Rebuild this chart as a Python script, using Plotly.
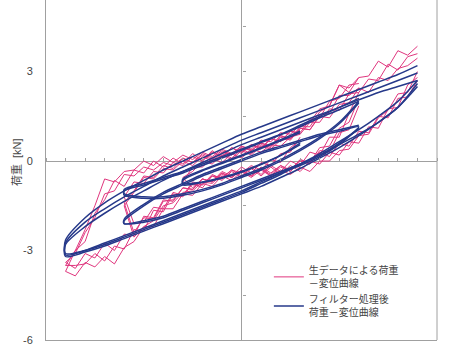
import plotly.graph_objects as go

# ---------------- data (displacement paths and measured loads) ----------------
pink_x9 = [9, 8.5, 8, 7.5, 7, 6.5, 6, 5.5, 5, 4.5, 4, 3.5, 3, 2.5, 2, 1.5, 1, 0.5, 0,
           -0.5, -1, -1.5, -2, -2.5, -3, -3.5, -4, -4.5, -5, -5.5, -6, -6.5, -7, -7.5, -8, -8.5, -9,
           -8.5, -8, -7.5, -7, -6.5, -6, -5.5, -5, -4.5, -4, -3.5, -3, -2.5, -2, -1.5, -1, -0.5,
           0, 0.5, 1, 1.5, 2, 2.5, 3, 3.5, 4, 4.5, 5, 5.5, 6, 6.5, 7, 7.5, 8, 8.5, 9]
pink_y9a = [3.85, 3.55, 3.7, 3.15, 3.35, 2.85, 2.8, 2.3, 2.55, 1.85, 1.75, 1.3, 1.2, 0.9, 0.95, 0.65, 0.7, 0.4, 0.5,
            0.25, 0.4, 0.15, 0.3, 0.05, 0.2, -0.05, 0.15, -0.15, 0.0, -0.3, -0.35, -0.7, -0.6, -1.5, -2.3, -3.0, -3.7,
            -3.85, -3.4, -3.55, -3.2, -3.45, -2.9, -2.7, -2.2, -2.0, -1.5, -1.4, -1.05, -1.0, -0.7, -0.75, -0.45, -0.55,
            -0.3, -0.5, -0.25, -0.5, -0.3, -0.45, -0.2, -0.35, 0.0, 0.0, 0.35, 0.4, 0.85, 0.9, 1.45, 1.7, 2.25, 2.3, 3.0]
pink_y9b = [3.6, 3.5, 3.05, 3.25, 2.7, 2.75, 2.3, 2.25, 1.7, 1.75, 1.3, 1.3, 0.9, 1.0, 0.65, 0.75, 0.4, 0.55, 0.25,
            0.45, 0.1, 0.35, 0.0, 0.25, -0.1, 0.1, -0.2, 0.0, -0.4, -0.3, -0.85, -0.65, -1.3, -1.75, -2.7, -3.0, -3.5,
            -3.5, -3.45, -3.1, -3.35, -2.85, -2.95, -2.3, -2.35, -1.65, -1.7, -1.1, -1.2, -0.75, -0.9, -0.5, -0.65, -0.35,
            -0.55, -0.25, -0.5, -0.2, -0.45, -0.15, -0.35, 0.0, -0.1, 0.3, 0.2, 0.65, 0.6, 1.15, 1.1, 1.75, 1.8, 2.55, 2.8]
pink_y9c = [3.45, 3.2, 3.1, 2.7, 2.8, 2.3, 2.45, 1.95, 1.9, 1.45, 1.5, 1.05, 1.1, 0.75, 0.85, 0.5, 0.6, 0.35, 0.45,
            0.2, 0.3, 0.05, 0.2, -0.05, 0.1, -0.15, -0.05, -0.3, -0.2, -0.5, -0.45, -1.0, -1.1, -1.9, -2.4, -3.1, -3.4,
            -3.6, -3.1, -3.25, -2.75, -3.0, -2.45, -2.5, -1.85, -1.9, -1.3, -1.35, -0.9, -0.95, -0.6, -0.7, -0.4, -0.55,
            -0.3, -0.5, -0.2, -0.4, -0.15, -0.35, 0.05, -0.1, 0.3, 0.15, 0.6, 0.5, 1.0, 0.95, 1.5, 1.45, 2.1, 2.15, 2.7]

pink_x6 = [6, 5.5, 5, 4.5, 4, 3.5, 3, 2.5, 2, 1.5, 1, 0.5, 0, -0.5, -1, -1.5, -2, -2.5, -3, -3.5, -4, -4.5, -5, -5.5, -6,
           -5.5, -5, -4.5, -4, -3.5, -3, -2.5, -2, -1.5, -1, -0.5, 0, 0.5, 1, 1.5, 2, 2.5, 3, 3.5, 4, 4.5, 5, 5.5, 6]
pink_y6a = [2.8, 2.45, 2.55, 1.85, 1.65, 1.15, 1.15, 0.75, 0.85, 0.5, 0.6, 0.35, 0.5, 0.2, 0.35, 0.1, 0.25, -0.05, 0.1,
            -0.25, -0.15, -0.55, -0.5, -1.0, -1.4,
            -2.4, -1.9, -1.95, -1.35, -1.3, -0.9, -0.95, -0.6, -0.7, -0.4, -0.55, -0.3, -0.5, -0.25, -0.45, -0.15,
            -0.3, 0.05, -0.05, 0.45, 0.5, 1.1, 1.3, 2.1]
pink_y6b = [2.6, 2.55, 2.1, 2.0, 1.45, 1.4, 0.95, 1.0, 0.65, 0.75, 0.45, 0.55, 0.3, 0.45, 0.15, 0.3, 0.0, 0.15, -0.15,
            -0.05, -0.4, -0.35, -0.75, -0.7, -1.2,
            -2.1, -2.05, -1.55, -1.6, -1.05, -1.15, -0.7, -0.8, -0.45, -0.6, -0.3, -0.5, -0.2, -0.45, -0.15, -0.35,
            0.0, -0.15, 0.3, 0.2, 0.8, 0.8, 1.6, 2.3]
pink_y6c = [2.45, 2.2, 2.2, 1.6, 1.55, 1.05, 1.1, 0.7, 0.8, 0.45, 0.55, 0.25, 0.4, 0.1, 0.25, 0.0, 0.15, -0.15, 0.0,
            -0.3, -0.25, -0.6, -0.55, -1.05, -1.5,
            -2.55, -2.2, -2.2, -1.6, -1.6, -1.1, -1.15, -0.75, -0.85, -0.5, -0.65, -0.35, -0.55, -0.3, -0.5, -0.2,
            -0.35, 0.0, -0.1, 0.35, 0.3, 0.95, 1.05, 1.85]

pink_x3 = [3, 2.5, 2, 1.5, 1, 0.5, 0, -0.5, -1, -1.5, -2, -2.5, -3,
           -2.5, -2, -1.5, -1, -0.5, 0, 0.5, 1, 1.5, 2, 2.5, 3]
pink_y3a = [1.05, 0.75, 0.7, 0.4, 0.5, 0.2, 0.35, 0.05, 0.2, -0.1, 0.0, -0.35, -0.55,
            -0.9, -0.6, -0.7, -0.35, -0.5, -0.2, -0.4, -0.05, -0.15, 0.25, 0.3, 0.8]
pink_y3b = [0.9, 0.8, 0.5, 0.55, 0.3, 0.4, 0.1, 0.25, -0.05, 0.1, -0.2, -0.2, -0.7,
            -0.8, -0.8, -0.5, -0.55, -0.3, -0.4, -0.15, -0.3, 0.05, -0.05, 0.45, 0.7]

blue_x9 = [9, 8, 7, 6, 5, 4, 3, 2, 1, 0, -1, -2, -3, -4, -5, -6, -7, -8, -9,
           -9, -8, -7, -6, -5, -4, -3, -2, -1, 0, 1, 2, 3, 4, 5, 6, 7, 8, 9]
blue_y9a = [3.2, 2.9, 2.65, 2.4, 2.15, 1.9, 1.65, 1.4, 1.15, 0.9, 0.6, 0.3, 0.0, -0.3, -0.65, -1.0, -1.4, -1.9, -2.65,
            -3.1, -3.0, -2.8, -2.55, -2.3, -2.05, -1.8, -1.55, -1.3, -1.05, -0.75, -0.45, -0.1, 0.25, 0.65, 1.05, 1.5, 2.0, 2.7]
blue_y9b = [2.95, 2.7, 2.45, 2.2, 1.95, 1.7, 1.45, 1.2, 0.95, 0.7, 0.4, 0.1, -0.2, -0.5, -0.85, -1.2, -1.6, -2.05, -2.75,
            -3.2, -3.05, -2.85, -2.6, -2.35, -2.1, -1.85, -1.6, -1.35, -1.1, -0.85, -0.55, -0.25, 0.1, 0.45, 0.85, 1.3, 1.8, 2.5]
blue_y9c = [2.7, 2.5, 2.3, 2.05, 1.8, 1.55, 1.3, 1.05, 0.8, 0.55, 0.25, -0.05, -0.35, -0.65, -1.0, -1.35, -1.75, -2.2, -2.8,
            -3.15, -3.0, -2.75, -2.5, -2.25, -2.0, -1.75, -1.5, -1.25, -1.0, -0.7, -0.4, -0.1, 0.2, 0.55, 0.9, 1.3, 1.8, 2.6]

blue_x6 = [6, 5, 4, 3, 2, 1, 0, -1, -2, -3, -4, -5, -6,
           -6, -5, -4, -3, -2, -1, 0, 1, 2, 3, 4, 5, 6]
blue_y6a = [2.1, 1.8, 1.5, 1.2, 0.9, 0.65, 0.4, 0.15, -0.1, -0.35, -0.55, -0.75, -0.95,
            -1.1, -1.2, -1.2, -1.1, -0.95, -0.75, -0.5, -0.25, 0.05, 0.4, 0.8, 1.3, 2.0]
blue_y6b = [2.0, 1.72, 1.45, 1.15, 0.88, 0.62, 0.36, 0.1, -0.15, -0.4, -0.6, -0.8, -1.0,
            -1.15, -1.25, -1.25, -1.15, -1.0, -0.8, -0.55, -0.3, 0.0, 0.35, 0.75, 1.25, 1.95]
blue_y6c = [1.2, 1.05, 0.9, 0.7, 0.5, 0.3, 0.05, -0.2, -0.45, -0.75, -1.05, -1.45, -1.95,
            -2.1, -2.05, -1.9, -1.65, -1.4, -1.15, -0.9, -0.65, -0.4, -0.15, 0.15, 0.55, 1.1]
blue_y6d = [1.15, 1.0, 0.85, 0.65, 0.45, 0.25, 0.0, -0.25, -0.5, -0.8, -1.1, -1.5, -2.0,
            -2.1, -2.0, -1.85, -1.6, -1.35, -1.1, -0.85, -0.6, -0.35, -0.1, 0.2, 0.6, 1.15]

blue_x3 = [3, 2, 1, 0, -1, -2, -3, -3, -2, -1, 0, 1, 2, 3]
blue_y3a = [1.0, 0.72, 0.45, 0.2, -0.05, -0.3, -0.6, -0.75, -0.7, -0.55, -0.35, -0.1, 0.2, 0.6]
blue_y3b = [0.95, 0.68, 0.42, 0.17, -0.08, -0.33, -0.65, -0.8, -0.72, -0.58, -0.38, -0.12, 0.18, 0.55]

y_tick_vals = [-6, -3, 0, 3]
y_tick_text = ["-6", "-3", "0", "3"]
x_range = [-10, 10]
y_range = [-6, 5.4]

name_raw = "生データによる荷重<br>－変位曲線"
name_filt = "フィルター処理後<br>荷重－変位曲線"
y_title = "荷重  [kN]"

pink_loops = [(pink_x3, pink_y3a), (pink_x3, pink_y3b),
              (pink_x6, pink_y6a), (pink_x6, pink_y6b), (pink_x6, pink_y6c),
              (pink_x9, pink_y9a), (pink_x9, pink_y9b), (pink_x9, pink_y9c)]
blue_loops = [(blue_x3, blue_y3a), (blue_x3, blue_y3b),
              (blue_x6, blue_y6a), (blue_x6, blue_y6b), (blue_x6, blue_y6c), (blue_x6, blue_y6d),
              (blue_x9, blue_y9a), (blue_x9, blue_y9b), (blue_x9, blue_y9c)]


def join(loops):
    xs, ys = [], []
    for lx, ly in loops:
        n = min(len(lx), len(ly))
        xs += list(lx[:n]) + [None]
        ys += list(ly[:n]) + [None]
    return xs, ys


PINK = "#e0367e"
BLUE = "#26398a"
AXC = "#a0a0a0"
FONT = "Liberation Sans, Arial, Noto Sans CJK JP, sans-serif"

px, py = join(pink_loops)
bx, by = join(blue_loops)

fig = go.Figure()
fig.add_trace(go.Scatter(x=px, y=py, mode="lines", name=name_raw,
                         line=dict(color=PINK, width=1), connectgaps=False))
fig.add_trace(go.Scatter(x=bx, y=by, mode="lines", name=name_filt,
                         line=dict(color=BLUE, width=1.5, shape="spline", smoothing=0.8),
                         connectgaps=False))
# helper trace for the tick axes on the zero lines
fig.add_trace(go.Scatter(x=[None], y=[None], xaxis="x2", yaxis="y2", showlegend=False,
                         hoverinfo="skip"))

zero_pos = (0 - y_range[0]) / (y_range[1] - y_range[0])

fig.update_layout(
    width=463, height=347,
    margin=dict(l=46, r=26, t=0, b=7),
    paper_bgcolor="white", plot_bgcolor="white",
    font=dict(family=FONT, size=11, color="#444"),
    showlegend=True,
    legend=dict(x=0.57, y=0.243, xanchor="left", yanchor="top",
                bgcolor="rgba(0,0,0,0)", font=dict(size=10, color="#444", family=FONT),
                tracegroupgap=4),
    xaxis=dict(range=x_range, showgrid=False, showticklabels=False, ticks="",
               showline=True, linecolor=AXC, linewidth=1,
               zeroline=True, zerolinecolor=AXC, zerolinewidth=1),
    yaxis=dict(range=y_range, tickvals=y_tick_vals, ticktext=y_tick_text, showgrid=False,
               ticks="", ticklabelstandoff=10, showline=True, linecolor=AXC, linewidth=1,
               zeroline=True, zerolinecolor=AXC, zerolinewidth=1,
               tickfont=dict(size=11, color="#444")),
    xaxis2=dict(range=x_range, overlaying="x", anchor="free", position=zero_pos, side="top",
                dtick=1, tick0=0, ticks="outside", ticklen=3, tickcolor=AXC, tickwidth=1,
                showticklabels=False, showgrid=False, zeroline=False, showline=False),
    yaxis2=dict(range=y_range, overlaying="y", anchor="free", position=0.5, side="right",
                dtick=1.5, tick0=0, ticks="outside", ticklen=3, tickcolor=AXC, tickwidth=1,
                showticklabels=False, showgrid=False, zeroline=False, showline=False),
    shapes=[dict(type="line", xref="paper", yref="paper", x0=1, x1=1, y0=0, y1=1,
                 line=dict(color=AXC, width=1))],
    annotations=[dict(text=y_title, xref="paper", yref="paper", x=-0.077, y=0.523,
                      xanchor="center", yanchor="middle", textangle=-90, showarrow=False,
                      font=dict(size=11, color="#444", family=FONT))],
)

fig.write_html("out.html")
